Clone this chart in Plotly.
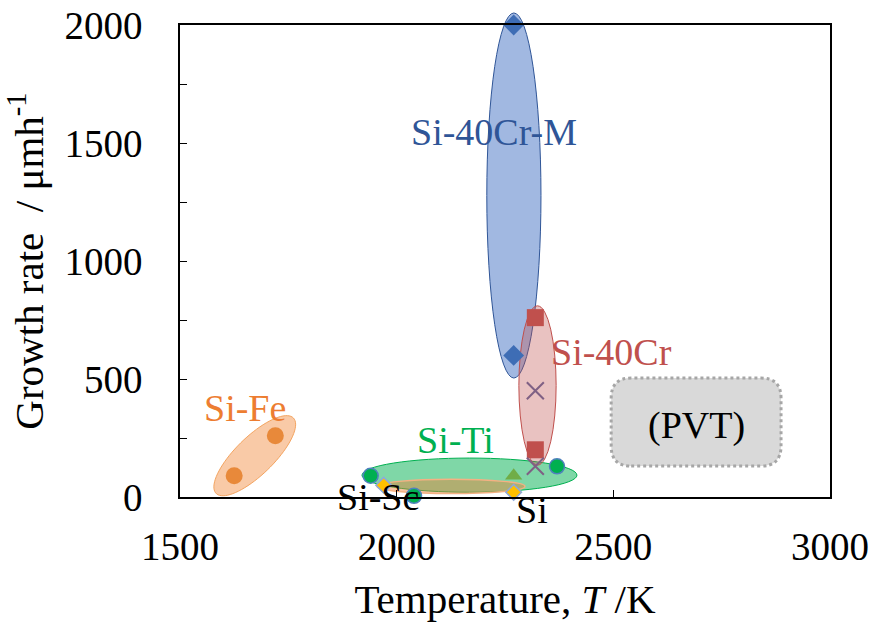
import numpy as np
import plotly.graph_objects as go

# ---- data ----
cr_m_T = [2270, 2270]
cr_m_R = [2000, 600]
cr_T = [2320, 2320]
cr_R = [760, 200]
cr_x_T = [2320, 2320]
cr_x_R = [450, 130]
ti_T = [1940, 2370]
ti_R = [90, 130]
sc_T = [2040]
sc_R = [5]
sc_d_T = [1970]
sc_d_R = [50]
si_tri_T = [2270]
si_tri_R = [90]
si_y_T = [2270]
si_y_R = [20]
fe_T = [1625, 1720]
fe_R = [90, 260]

x_ticks = [1500, 2000, 2500, 3000]
y_ticks = [0, 500, 1000, 1500, 2000]
Y_RANGE = [0, 2000]
X_RANGE = [1500, 3000]

FONT = "Liberation Serif, Times New Roman, serif"

# pixel scale (approx) for drawing tilted ellipse in screen-proportional space
PX_X = 650 / 1500.0
PX_Y = 472 / 2000.0


def ellipse_path(cx, cy, a_px, b_px, ang_deg, n=80):
    t = np.linspace(0, 2 * np.pi, n)
    ang = np.deg2rad(ang_deg)
    xp = a_px * np.cos(t) * np.cos(ang) - b_px * np.sin(t) * np.sin(ang)
    yp = a_px * np.cos(t) * np.sin(ang) + b_px * np.sin(t) * np.cos(ang)
    xs = cx + xp / PX_X
    ys = cy + yp / PX_Y
    d = "M " + " L ".join(f"{x:.2f},{y:.2f}" for x, y in zip(xs, ys)) + " Z"
    return d


def to_paper_y(v):
    return (v - Y_RANGE[0]) / (Y_RANGE[1] - Y_RANGE[0])


fig = go.Figure()

shapes = []
# Si-Ti ellipse (green)
shapes.append(dict(type="circle", xref="x", yref="y", x0=1920, x1=2416, y0=20, y1=165,
                   fillcolor="rgba(0,176,80,0.5)", line=dict(color="#00B050", width=1), layer="below"))
# Si-Sc ellipse (orange)
shapes.append(dict(type="circle", xref="x", yref="y", x0=1955, x1=2296, y0=15, y1=75,
                   fillcolor="rgba(237,125,49,0.45)", line=dict(color="#F4B183", width=1.5), layer="below"))
# Si-40Cr-M ellipse (blue) - extends slightly above the frame
shapes.append(dict(type="circle", xref="x", yref="paper", x0=2208, x1=2333,
                   y0=to_paper_y(504), y1=to_paper_y(2051),
                   fillcolor="rgba(68,114,196,0.5)", line=dict(color="#2F5597", width=1), layer="below"))
# Si-40Cr ellipse (red)
shapes.append(dict(type="circle", xref="x", yref="y", x0=2282, x1=2368, y0=135, y1=810,
                   fillcolor="rgba(192,80,77,0.35)", line=dict(color="#C0504D", width=1), layer="below"))
# Si-Fe tilted ellipse
fe_cx = float(np.mean(fe_T))
fe_cy = float(np.mean(fe_R))
dxp = (fe_T[1] - fe_T[0]) * PX_X
dyp = (fe_R[1] - fe_R[0]) * PX_Y
ang = np.rad2deg(np.arctan2(dyp, dxp))
shapes.append(dict(type="path", xref="x", yref="y", path=ellipse_path(fe_cx, fe_cy, 54, 19, ang),
                   fillcolor="rgba(244,150,80,0.5)", line=dict(color="#F4A460", width=1), layer="below"))
# PVT box (rounded, dotted)
bx0, bx1, by0, by1 = 2495, 2887, 131, 504
r = 20
shapes.append(dict(type="path", xref="x", yref="y",
                   path=(f"M {bx0 + r/PX_X},{by0} L {bx1 - r/PX_X},{by0} "
                         f"Q {bx1},{by0} {bx1},{by0 + r/PX_Y} L {bx1},{by1 - r/PX_Y} "
                         f"Q {bx1},{by1} {bx1 - r/PX_X},{by1} L {bx0 + r/PX_X},{by1} "
                         f"Q {bx0},{by1} {bx0},{by1 - r/PX_Y} L {bx0},{by0 + r/PX_Y} "
                         f"Q {bx0},{by0} {bx0 + r/PX_X},{by0} Z"),
                   fillcolor="#D9D9D9", line=dict(color="#A6A6A6", width=3, dash="dot"), layer="below"))

def add_pts(xs, ys, marker):
    fig.add_trace(go.Scatter(x=xs, y=ys, mode="markers", marker=marker, cliponaxis=False))

add_pts(ti_T, ti_R, dict(symbol="circle", size=15, color="#00B050", line=dict(color="#4F81BD", width=1.5)))
add_pts(sc_T, sc_R, dict(symbol="circle", size=15, color="#00B050", line=dict(color="#4F81BD", width=1.5)))
add_pts(sc_d_T, sc_d_R, dict(symbol="diamond", size=12, color="#FFC000", line=dict(color="#8EA9DB", width=1.5)))
add_pts(si_tri_T, si_tri_R, dict(symbol="triangle-up", size=15, color="#70AD47"))
add_pts(si_y_T, si_y_R, dict(symbol="diamond", size=12, color="#FFC000", line=dict(color="#8EA9DB", width=1.5)))
add_pts(fe_T, fe_R, dict(symbol="circle", size=17, color="#E8893A"))
add_pts(cr_m_T, cr_m_R, dict(symbol="diamond", size=16, color="#3E6DB5"))
add_pts(cr_T, cr_R, dict(symbol="square", size=17, color="#C0504D"))
add_pts(cr_x_T, cr_x_R, dict(symbol="x-thin", size=17, color="#8064A2", line=dict(color="#7F6084", width=2)))

annos = [
    dict(x=2225, y=1545, text="Si-40Cr-M", color="#2F5597"),
    dict(x=2495, y=614, text="Si-40Cr", color="#C0504D"),
    dict(x=1650, y=377, text="Si-Fe", color="#ED7D31"),
    dict(x=2135, y=241, text="Si-Ti", color="#00B050"),
    dict(x=1957, y=0, text="Si-Sc", color="black"),
    dict(x=2312, y=-55, text="Si", color="black"),
    dict(x=2693, y=305, text="(PVT)", color="black"),
]
for a in annos:
    # paper y-reference lets labels sit just outside the frame too
    fig.add_annotation(x=a["x"], y=to_paper_y(a["y"]), xref="x", yref="paper", text=a["text"],
                       showarrow=False,
                       font=dict(family=FONT, size=38, color=a["color"]), xanchor="center", yanchor="middle")

fig.update_layout(
    width=874, height=622,
    margin=dict(l=180, r=44, t=25, b=125),
    paper_bgcolor="white", plot_bgcolor="white",
    showlegend=False,
    shapes=shapes,
    font=dict(family=FONT, size=39, color="black"),
)
fig.update_xaxes(range=X_RANGE, tickvals=x_ticks, ticktext=[str(v) for v in x_ticks],
                 automargin=False, ticklabeloverflow="allow",
                 showgrid=False, zeroline=False, showline=True, mirror=True, linecolor="black", linewidth=1.5,
                 ticks="inside", ticklen=7, tickcolor="black", ticklabelstandoff=14,
                 tickfont=dict(family=FONT, size=39),
                 title=dict(text="Temperature, <i>T</i> /K", font=dict(family=FONT, size=41), standoff=20))
fig.update_yaxes(range=Y_RANGE, tickvals=y_ticks, ticktext=[str(v) for v in y_ticks],
                 automargin=False, ticklabeloverflow="allow",
                 showgrid=False, zeroline=False, showline=True, mirror=True, linecolor="black", linewidth=1.5,
                 ticks="inside", ticklen=7, tickcolor="black", ticklabelstandoff=28,
                 minor=dict(dtick=250, ticks="inside", ticklen=7, tickcolor="black", showgrid=False),
                 tickfont=dict(family=FONT, size=39),
                 title=dict(text="Growth rate  / μmh<sup>-1</sup>", font=dict(family=FONT, size=41), standoff=13))

# remove the default 8px page margin so the figure fills the window exactly
fig.write_html("out.html", config={"displayModeBar": False},
               post_script="document.body.style.margin='0';document.body.style.overflow='hidden';")
